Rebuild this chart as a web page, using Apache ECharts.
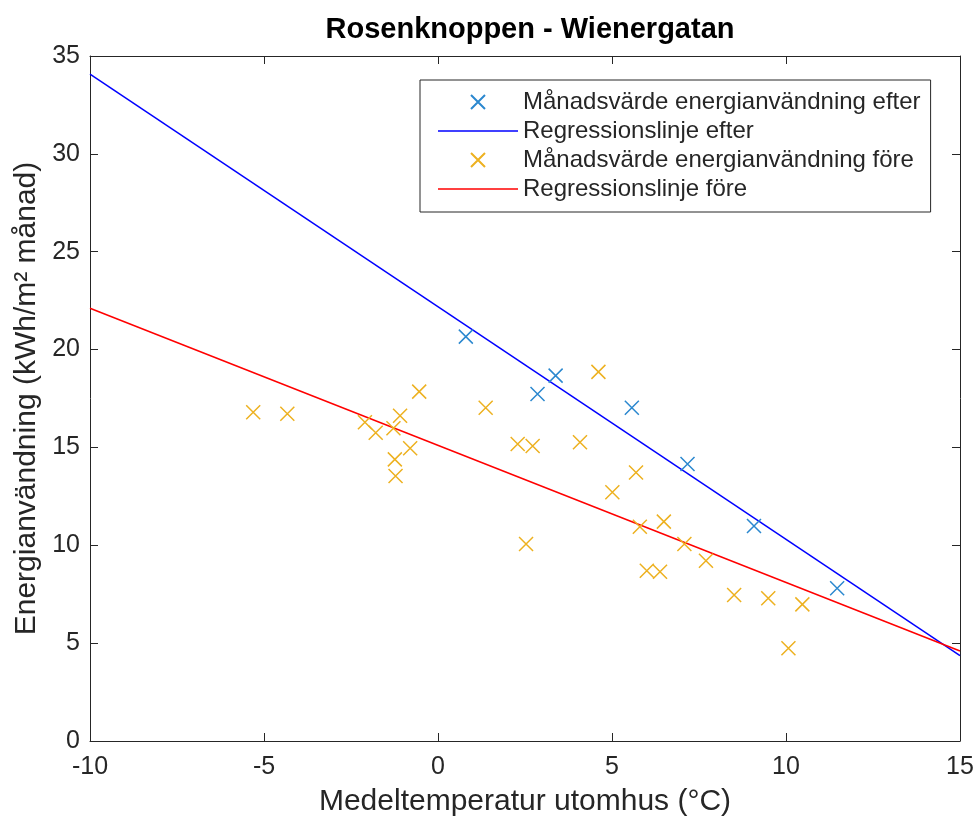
<!DOCTYPE html>
<html>
<head>
<meta charset="utf-8">
<script src="https://cdn.jsdelivr.net/npm/echarts@6/dist/echarts.min.js"></script>
<style>
  html, body { margin: 0; padding: 0; background: #ffffff; }
  #chart { width: 978px; height: 819px; }
</style>
</head>
<body>
<div id="chart"></div>
<script>
// Monthly values after the renovation: [outdoor temperature °C, kWh/m² per month]
const efterPoints = [
  [0.80, 20.66], [2.86, 17.73], [3.38, 18.67], [5.57, 17.03],
  [7.17, 14.15], [9.08, 10.99], [11.47, 7.80]
];
// Monthly values before the renovation
const forePoints = [
  [-5.31, 16.80], [-4.33, 16.72], [-2.10, 16.29], [-1.79, 15.75],
  [-1.09, 16.62], [-1.28, 15.98], [-0.80, 14.96], [-1.24, 14.39],
  [-1.22, 13.54], [-0.54, 17.85], [1.37, 17.03], [2.29, 15.18],
  [2.72, 15.07], [4.08, 15.26], [4.61, 18.86], [5.01, 12.71],
  [5.69, 13.72], [5.80, 10.95], [6.49, 11.21], [7.08, 10.07],
  [2.53, 10.07], [7.70, 9.21], [6.00, 8.70], [6.38, 8.65],
  [8.51, 7.46], [9.49, 7.29], [10.47, 6.98], [10.07, 4.74]
];
// Regression lines, given by their ends at the edges of the temperature range
const efterLine = [[-10, 34.08], [15, 4.36]];
const foreLine = [[-10, 22.11], [15, 4.60]];

const xTicks = { min: -10, max: 15, step: 5 };
const yTicks = { min: 0, max: 35, step: 5 };

const seriesNames = [
  'Månadsvärde energianvändning efter',
  'Regressionslinje efter',
  'Månadsvärde energianvändning före',
  'Regressionslinje före'
];

const textColor = '#262626';
const fontFamily = '"Liberation Sans", Arial, Helvetica, sans-serif';
const crossSymbol = 'path://M0,0L10,10M10,0L0,10';
// flat bar used as the legend sample for the regression lines
const lineIcon = 'path://M0,0H80V1.5H0Z';

const colors = {
  efterMarker: '#2b88cf',
  efterLine: '#0000FF',
  foreMarker: '#EDB120',
  foreLine: '#FF0000'
};

const chart = echarts.init(document.getElementById('chart'), null, { renderer: 'canvas' });

function valueAxis(range, extra) {
  return Object.assign({
    type: 'value',
    min: range.min,
    max: range.max,
    interval: range.step,
    splitLine: { show: false },
    axisLine: { show: true, onZero: false, lineStyle: { color: textColor, width: 1 } },
    axisTick: { show: true, inside: true, length: 8, lineStyle: { color: textColor, width: 1 } },
    axisLabel: { show: false }
  }, extra);
}

const option = {
  backgroundColor: '#ffffff',
  animation: false,
  title: {
    text: 'Rosenknoppen - Wienergatan',
    left: 525,
    top: 10,
    textAlign: 'center',
    textStyle: { fontFamily: fontFamily, fontSize: 29, fontWeight: 'bold', color: '#000000' }
  },
  grid: { left: 90, right: 18, top: 56, bottom: 78, containLabel: false, outerBoundsMode: 'none' },
  legend: {
    orient: 'vertical',
    left: 420,
    top: 80,
    padding: [10, 10, 11, 18],
    itemGap: 5,
    itemWidth: 80,
    itemHeight: 14,
    borderColor: textColor,
    borderWidth: 1,
    backgroundColor: '#ffffff',
    data: [
      { name: seriesNames[0] },
      { name: seriesNames[1], icon: lineIcon },
      { name: seriesNames[2] },
      { name: seriesNames[3], icon: lineIcon }
    ],
    textStyle: { fontFamily: fontFamily, fontSize: 24, color: textColor }
  },
  xAxis: [
    valueAxis(xTicks, {
      position: 'bottom',
      name: 'Medeltemperatur utomhus (°C)',
      nameLocation: 'middle',
      nameGap: 46,
      nameTextStyle: { fontFamily: fontFamily, fontSize: 30, color: textColor },
      axisLabel: { show: true, margin: 14, fontFamily: fontFamily, fontSize: 25, color: textColor }
    }),
    valueAxis(xTicks, { position: 'top' })
  ],
  yAxis: [
    valueAxis(yTicks, {
      position: 'left',
      name: 'Energianvändning (kWh/m² månad)',
      nameLocation: 'middle',
      nameGap: 48,
      nameTextStyle: { fontFamily: fontFamily, fontSize: 30, color: textColor },
      axisLabel: { show: true, margin: 10, fontFamily: fontFamily, fontSize: 25, color: textColor }
    }),
    valueAxis(yTicks, { position: 'right' })
  ],
  series: [
    {
      name: seriesNames[0],
      type: 'scatter',
      data: efterPoints,
      symbol: crossSymbol,
      symbolSize: 14,
      itemStyle: { color: colors.efterMarker, borderColor: colors.efterMarker, borderWidth: 1.5, opacity: 1 },
      z: 3
    },
    {
      name: seriesNames[1],
      type: 'line',
      data: efterLine,
      symbol: 'none',
      lineStyle: { color: colors.efterLine, width: 1.5 },
      itemStyle: { color: colors.efterLine },
      z: 2
    },
    {
      name: seriesNames[2],
      type: 'scatter',
      data: forePoints,
      symbol: crossSymbol,
      symbolSize: 14,
      itemStyle: { color: colors.foreMarker, borderColor: colors.foreMarker, borderWidth: 1.5, opacity: 1 },
      z: 3
    },
    {
      name: seriesNames[3],
      type: 'line',
      data: foreLine,
      symbol: 'none',
      lineStyle: { color: colors.foreLine, width: 1.5 },
      itemStyle: { color: colors.foreLine },
      z: 2
    }
  ]
};

chart.setOption(option);
</script>
</body>
</html>
